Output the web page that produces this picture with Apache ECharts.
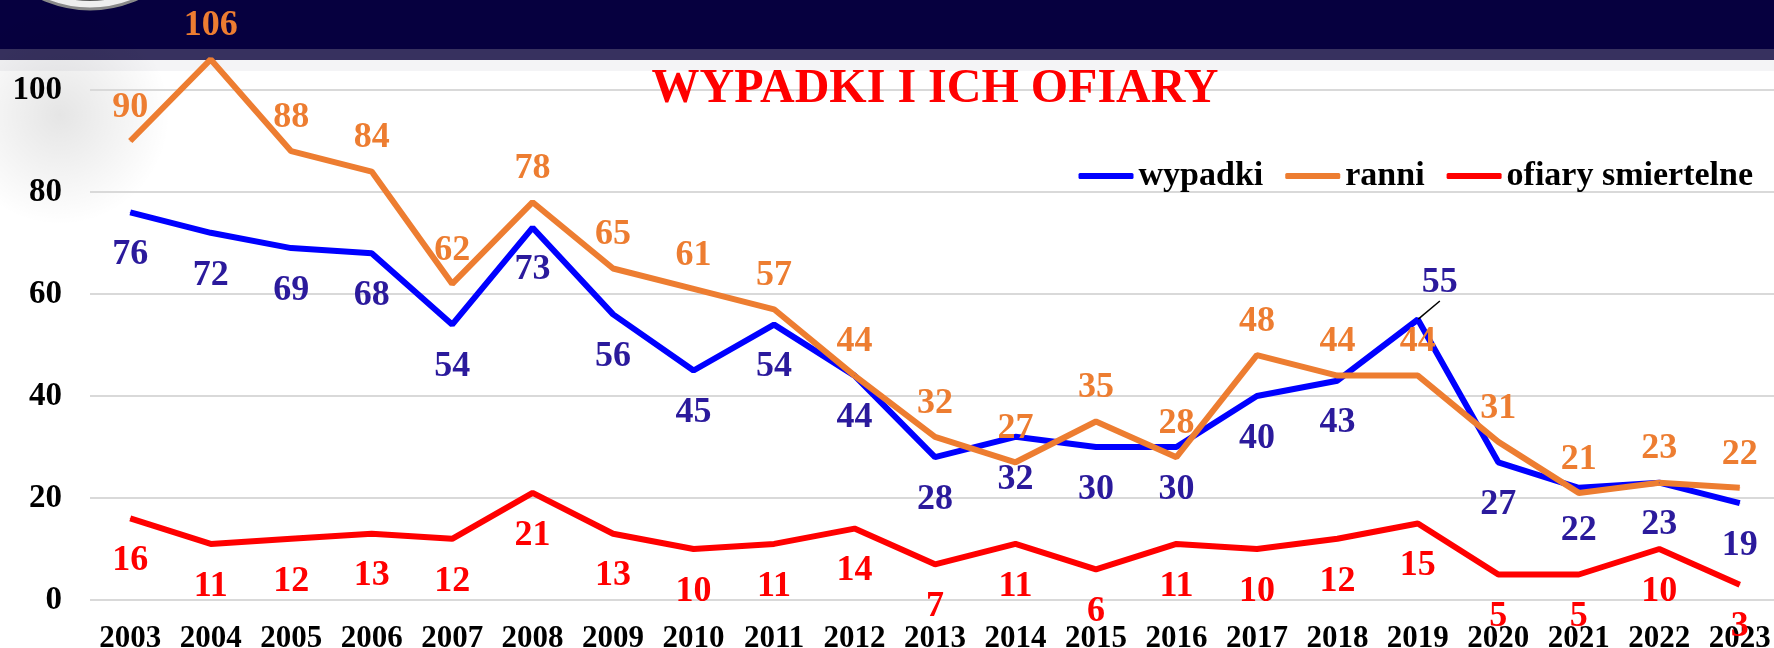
<!DOCTYPE html>
<html lang="pl">
<head>
    <meta charset="utf-8">
    <title>Wypadki i ich ofiary</title>
    <style>
        html, body { margin: 0; padding: 0; background: #fff; }
        #main { width: 1774px; height: 648px; }
    </style>
</head>
<body>
    <div id="main"></div>
    <script src="https://cdn.jsdelivr.net/npm/echarts@6/dist/echarts.min.js"></script>
    <script type="text/javascript">
        // dane z wykresu
        var lata = ['2003', '2004', '2005', '2006', '2007', '2008', '2009', '2010', '2011', '2012', '2013',
            '2014', '2015', '2016', '2017', '2018', '2019', '2020', '2021', '2022', '2023'];
        var wypadki = [76, 72, 69, 68, 54, 73, 56, 45, 54, 44, 28, 32, 30, 30, 40, 43, 55, 27, 22, 23, 19];
        var ranni = [90, 106, 88, 84, 62, 78, 65, 61, 57, 44, 32, 27, 35, 28, 48, 44, 44, 31, 21, 23, 22];
        var ofiary = [16, 11, 12, 13, 12, 21, 13, 10, 11, 14, 7, 11, 6, 11, 10, 12, 15, 5, 5, 10, 3];

        var font = "'Liberation Serif', 'Times New Roman', serif";
        var myChart = echarts.init(document.getElementById('main'));

        function lineSeries(name, data, color, labelColor, pos, dist) {
            return {
                name: name,
                type: 'line',
                data: data,
                symbol: 'circle',
                symbolSize: 1,
                clip: false,
                lineStyle: { color: color, width: 6 },
                itemStyle: { color: color },
                emphasis: { disabled: true },
                label: {
                    show: true,
                    position: pos,
                    distance: dist,
                    color: labelColor,
                    fontFamily: font,
                    fontWeight: 'bold',
                    fontSize: 36
                }
            };
        }

        var s1 = lineSeries('wypadki', wypadki, '#0000ff', '#2b1a9c', 'bottom', 24);
        // 2019 - etykieta nad punktem z linia
        s1.data = wypadki.map(function (v, i) {
            if (i === 16) {
                return {
                    value: v,
                    label: { position: 'top', distance: 16 },
                    labelLine: { show: true, lineStyle: { color: '#000', width: 1.5 } }
                };
            }
            return v;
        });
        s1.labelLayout = function (p) {
            if (p.dataIndex === 16) return { dx: 22, dy: -2 };
        };
        var s2 = lineSeries('ranni', ranni, '#ed7d31', '#ed7d31', 'top', 15);
        var s3 = lineSeries('ofiary smiertelne', ofiary, '#ff0000', '#ff0000', 'bottom', 24);

        var option = {
            animation: false,
            backgroundColor: '#ffffff',
            graphic: [
                { type: 'rect', z: -10, shape: { x: 0, y: 0, width: 1774, height: 49 }, style: { fill: '#06003f' } },
                { type: 'rect', z: -10, shape: { x: 0, y: 49, width: 1774, height: 11 }, style: { fill: '#37315f' } },
                { type: 'rect', z: -10, shape: { x: 0, y: 60, width: 1774, height: 11 }, style: { fill: '#f4f4f6' } },
                {
                    type: 'circle', z: -9, shape: { cx: 60, cy: 115, r: 110 },
                    style: {
                        fill: new echarts.graphic.RadialGradient(0.5, 0.5, 0.5, [
                            { offset: 0, color: 'rgba(0,0,0,0.10)' },
                            { offset: 1, color: 'rgba(0,0,0,0)' }
                        ])
                    }
                },
                // logo (widoczny tylko dol)
                {
                    type: 'circle', z: -8, shape: { cx: 90, cy: -106, r: 115 },
                    style: { fill: '#eeeeee', stroke: '#8a8a8a', lineWidth: 3 }
                },
                {
                    type: 'circle', z: -8, shape: { cx: 90, cy: -106, r: 106 },
                    style: { fill: '#ffffff', stroke: '#555555', lineWidth: 2 }
                },
                {
                    type: 'text', z: 5, x: 935, y: 90,
                    style: {
                        text: 'WYPADKI I ICH OFIARY',
                        fill: '#ff0000',
                        font: "bold 48px 'Liberation Serif', serif",
                        textAlign: 'center',
                        textVerticalAlign: 'middle'
                    }
                }
            ],
            legend: {
                data: ['wypadki', 'ranni', 'ofiary smiertelne'],
                right: 16,
                top: 154,
                icon: 'roundRect',
                itemWidth: 55,
                itemHeight: 6,
                itemGap: 22,
                textStyle: {
                    color: '#000',
                    fontFamily: font,
                    fontWeight: 'bold',
                    fontSize: 34
                }
            },
            grid: {
                left: 90,
                right: -6,
                top: 90,
                bottom: 48,
                outerBoundsMode: 'none'
            },
            xAxis: {
                type: 'category',
                data: lata,
                boundaryGap: true,
                axisLine: { show: false },
                axisTick: { show: false },
                axisLabel: {
                    interval: 0,
                    margin: 23,
                    color: '#000',
                    fontFamily: font,
                    fontWeight: 'bold',
                    fontSize: 31
                }
            },
            yAxis: {
                type: 'value',
                min: 0,
                max: 100,
                interval: 20,
                axisLine: { show: false },
                axisTick: { show: false },
                splitLine: { lineStyle: { color: '#d9d9d9', width: 2 } },
                axisLabel: {
                    margin: 28,
                    padding: [8, 0, 0, 0],
                    color: '#000',
                    fontFamily: font,
                    fontWeight: 'bold',
                    fontSize: 33
                }
            },
            series: [s1, s2, s3]
        };
        myChart.setOption(option);
    </script>
</body>
</html>
